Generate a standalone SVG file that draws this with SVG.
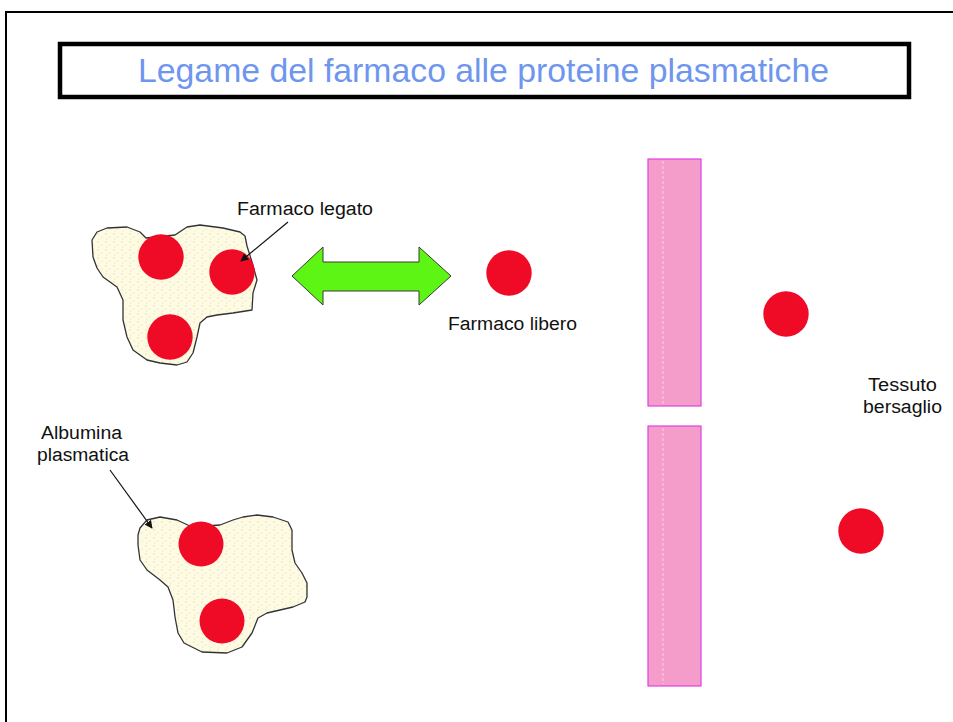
<svg xmlns="http://www.w3.org/2000/svg" width="953" height="722" viewBox="0 0 953 722">
<defs>
<style>
.lbl{font-family:"Liberation Sans",Arial,sans-serif;font-size:18px;fill:#111}
.title{font-family:"Liberation Sans",Arial,sans-serif;font-size:34px;fill:#6f96ee}
.drug{fill:#ef0a26}
.blob{fill:url(#speck);stroke:#333;stroke-width:1.3;stroke-linejoin:round}
.memb{fill:#f59dca;stroke:#e23fe6;stroke-width:1.2}
.ptr{stroke:#111;stroke-width:1.2;fill:none;marker-end:url(#ah)}
</style>
<pattern id="speck" width="8" height="8" patternUnits="userSpaceOnUse">
<rect width="8" height="8" fill="#fdfae6"/>
<circle cx="2" cy="2" r="0.8" fill="#f1e38c"/>
<circle cx="6" cy="5" r="0.7" fill="#f3e9a8"/>
<circle cx="3" cy="7" r="0.5" fill="#efe08a"/>
</pattern>
<marker id="ah" viewBox="0 0 10 10" refX="9" refY="5" markerWidth="8" markerHeight="8" markerUnits="userSpaceOnUse" orient="auto">
<path d="M0,0 L10,5 L0,10 z" fill="#111"/>
</marker>
</defs>
<rect width="953" height="722" fill="#fff"/>
<path d="M6,730 L6,12 L960,12" fill="none" stroke="#000" stroke-width="2"/>

<g id="title">
<rect x="60" y="44" width="849" height="53" fill="#fff" stroke="#000" stroke-width="4.5"/>
<text class="title" x="483.5" y="82" text-anchor="middle" textLength="691" lengthAdjust="spacingAndGlyphs">Legame del farmaco alle proteine plasmatiche</text>
</g>

<g id="albumin-bound">
<path class="blob" d="M92,240 L97,232 L107,228 L127,227 L140,232 L146,238 L175,235 L187,227 L200,225 L223,228 L240,232 L245,236 L247,246 L252,262 L257,280 L253,293 L252,310 L233,313 L217,315 L207,317 L200,323 L197,337 L193,353 L187,362 L177,365 L160,363 L147,360 L133,350 L127,337 L123,320 L123,300 L117,287 L103,277 L97,268 L93,257 Z"/>
<circle class="drug" cx="161" cy="257" r="22.7"/>
<circle class="drug" cx="232" cy="272" r="22.7"/>
<circle class="drug" cx="170" cy="337" r="22.7"/>
</g>

<g id="albumin">
<path class="blob" d="M138,535 L140,528 L147,520 L160,517 L177,520 L192,527 L220,525 L233,520 L243,517 L257,515 L273,517 L288,522 L292,530 L292,550 L295,563 L302,573 L307,583 L307,597 L305,602 L293,607 L280,610 L267,613 L258,618 L252,633 L242,647 L227,653 L202,652 L184,643 L178,633 L175,617 L173,600 L168,587 L160,580 L147,570 L140,560 L138,545 Z"/>
<circle class="drug" cx="201" cy="544" r="22.5"/>
<circle class="drug" cx="222" cy="621" r="22.5"/>
</g>

<g id="free-drug">
<circle class="drug" cx="509" cy="273" r="22.7"/>
<text class="lbl" x="512.5" y="330" text-anchor="middle" textLength="129" lengthAdjust="spacingAndGlyphs">Farmaco libero</text>
</g>

<g id="membrane">
<rect class="memb" x="648" y="159" width="53" height="247"/>
<rect class="memb" x="648" y="426" width="53" height="260"/>
<line x1="663" y1="161" x2="663" y2="404" stroke="#fbd0e8" stroke-width="1" stroke-dasharray="3,2"/>
<line x1="663" y1="428" x2="663" y2="684" stroke="#fbd0e8" stroke-width="1" stroke-dasharray="3,2"/>
</g>

<g id="tissue-drugs">
<circle class="drug" cx="786" cy="314" r="22.7"/>
<circle class="drug" cx="861" cy="531" r="22.7"/>
</g>

<g id="labels">
<text class="lbl" x="305" y="215" text-anchor="middle" textLength="136" lengthAdjust="spacingAndGlyphs">Farmaco legato</text>
<text class="lbl" x="81.5" y="439" text-anchor="middle" textLength="81" lengthAdjust="spacingAndGlyphs">Albumina</text>
<text class="lbl" x="83" y="461" text-anchor="middle" textLength="92" lengthAdjust="spacingAndGlyphs">plasmatica</text>
<text class="lbl" x="902.5" y="391" text-anchor="middle" textLength="69" lengthAdjust="spacingAndGlyphs">Tessuto</text>
<text class="lbl" x="902.5" y="413" text-anchor="middle" textLength="79" lengthAdjust="spacingAndGlyphs">bersaglio</text>
</g>

<g id="connectors">
<line class="ptr" x1="288" y1="222" x2="241" y2="261"/>
<line class="ptr" x1="110" y1="470" x2="152" y2="528"/>
<polygon points="292,276 323,247 323,262 419,262 419,247 451,276 419,305 419,291 323,291 323,305" fill="#5df513" stroke="#3a3a3a" stroke-width="1"/>
</g>
</svg>
